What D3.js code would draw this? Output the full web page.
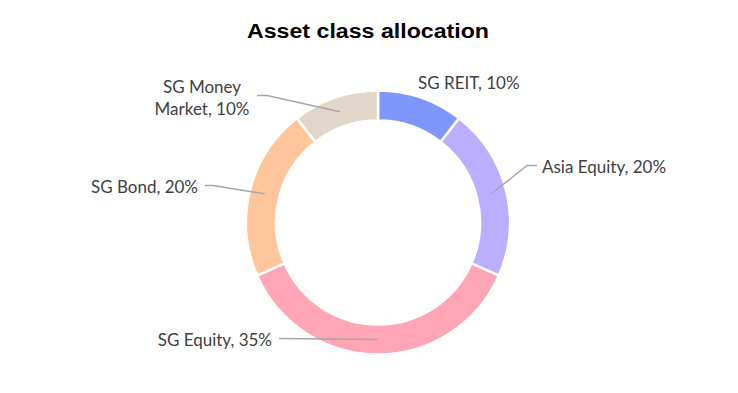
<!DOCTYPE html>
<html>
<head>
<meta charset="utf-8">
<script src="https://cdn.jsdelivr.net/npm/d3@7"></script>
<style>
  body { margin: 0; background: #fff; }
</style>
</head>
<body>
<div id="chart"></div>
<script>
// Asset class allocation donut

const width = 738;
const height = 393;

// data (clockwise from 12 o'clock)
const assets = ["SG REIT", "Asia Equity", "SG Equity", "SG Bond", "SG Money Market"];
const weights = [10, 20, 35, 20, 10];
const colors = ["#8096FF", "#BBAEFF", "#FFA5B5", "#FFC59B", "#E0D6C9"];

// label placement, relative to the donut centre
// [text x, text y, anchor, elbow x (null = no leader)]
const labelLayout = [
  [40, -134, "start", null],
  [164, -50, "start", 149],
  [-106, 123, "end", -99],
  [-180, -30, "end", -165],
  [-176, -130, "middle", -111]
];

const cx = 378, cy = 222.5;
const outerR = 132, innerR = 102;

const svg = d3.select("#chart")
  .append("svg")
  .attr("width", width)
  .attr("height", height)
  .attr("viewBox", [0, 0, width, height]);

svg.append("text")
  .attr("x", 247)
  .attr("y", 37.5)
  .attr("font-family", "Liberation Sans, Arial, sans-serif")
  .attr("font-size", 20)
  .attr("font-weight", "bold")
  .attr("fill", "#000")
  .attr("textLength", 242)
  .attr("lengthAdjust", "spacingAndGlyphs")
  .text("Asset class allocation");

const pie = d3.pie().sort(null).value(d => d.value);
const arcs = pie(assets.map((name, i) => ({ name, value: weights[i], color: colors[i], layout: labelLayout[i] })));

const arc = d3.arc().innerRadius(innerR).outerRadius(outerR);
const midArc = d3.arc().innerRadius((innerR + outerR) / 2).outerRadius((innerR + outerR) / 2);

const g = svg.append("g").attr("transform", `translate(${cx},${cy})`);

g.selectAll("path.slice")
  .data(arcs)
  .join("path")
  .attr("class", "slice")
  .attr("d", arc)
  .attr("fill", d => d.data.color)
  .attr("stroke", "#fff")
  .attr("stroke-width", 2.5);

// leader lines
g.selectAll("polyline")
  .data(arcs.filter(d => d.data.layout[3] !== null))
  .join("polyline")
  .attr("points", d => {
    const [tx, ty, anchor, ex] = d.data.layout;
    const c = midArc.centroid(d);
    const ly = anchor === "middle" ? ty + 3 : ty - 7;
    const sx = anchor === "middle" ? ex - 10 : (anchor === "start" ? tx - 5 : tx + 7);
    return [[sx, ly], [ex, ly], c].map(p => p.join(",")).join(" ");
  })
  .attr("fill", "none")
  .attr("stroke", "#A6A6A6")
  .attr("stroke-width", 1.5);

// labels
const labels = g.selectAll("text.label")
  .data(arcs)
  .join("text")
  .attr("class", "label")
  .attr("x", d => d.data.layout[0])
  .attr("y", d => d.data.layout[1])
  .attr("text-anchor", d => d.data.layout[2])
  .attr("font-family", "Lato, sans-serif")
  .attr("font-size", 17)
  .attr("fill", "#404040");

labels.each(function(d) {
  const pct = d.data.value + "%";
  const t = d3.select(this);
  if (d.data.name === "SG Money Market") {
    t.append("tspan").attr("x", d.data.layout[0]).text("SG Money");
    t.append("tspan").attr("x", d.data.layout[0]).attr("dy", 22).text("Market, " + pct);
  } else {
    t.text(d.data.name + ", " + pct);
  }
});
</script>
</body>
</html>
